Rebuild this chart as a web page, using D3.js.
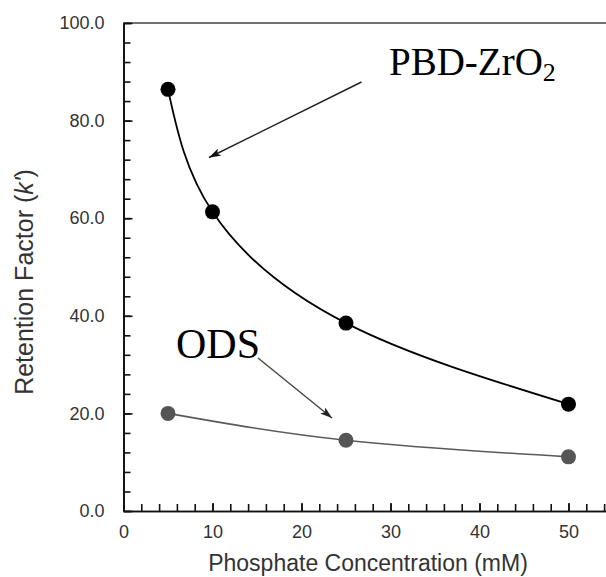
<!DOCTYPE html>
<html>
<head>
<meta charset="utf-8">
<script src="https://cdn.jsdelivr.net/npm/d3@7/dist/d3.min.js"></script>
<style>
  html, body { margin: 0; padding: 0; background: #fff; }
  svg { display: block; }
</style>
</head>
<body>
<svg id="chart" width="606" height="577"></svg>
<script>
// Phosphate concentration (mM) and retention factors for two stationary phases
const pbdConc = [5, 10, 25, 50];
const pbdK = [86.4, 61.3, 38.5, 21.9];
const odsConc = [5, 25, 50];
const odsK = [20.0, 14.5, 11.1];

const yTickLabels = ["0.0", "20.0", "40.0", "60.0", "80.0", "100.0"];
const xTickLabels = ["0", "10", "20", "30", "40", "50"];

const svg = d3.select("#chart");
const plotLeft = 123.5, plotTop = 23, plotBottom = 511;

const x = d3.scaleLinear().domain([0, 55]).range([plotLeft, plotLeft + 55 * 8.9]);
const y = d3.scaleLinear().domain([0, 100]).range([plotBottom, plotTop]);

const axisColor = "#111";
const sans = "Liberation Sans, Arial, sans-serif";

// top frame line
svg.append("line")
  .attr("x1", plotLeft).attr("x2", 606).attr("y1", plotTop).attr("y2", plotTop)
  .attr("stroke", "#444").attr("stroke-width", 1.6);

function styleAxis(g) {
  g.select(".domain").attr("stroke", axisColor).attr("stroke-width", 1.7);
  g.selectAll(".tick line").attr("stroke", axisColor).attr("stroke-width", 1.6);
}

// Y axis: minor ticks every 4 (inside), major every 20 with labels
svg.append("g").attr("transform", `translate(${plotLeft},0)`)
  .call(d3.axisLeft(y).tickValues(d3.range(0, 101, 4)).tickSize(-7).tickSizeOuter(0).tickFormat(""))
  .call(styleAxis);
svg.append("g").attr("transform", `translate(${plotLeft},0)`)
  .call(d3.axisLeft(y).tickValues(yTickLabels.map(Number)).tickSize(-9).tickSizeOuter(0)
    .tickPadding(19).tickFormat((d, i) => yTickLabels[i]))
  .call(styleAxis)
  .call(g => g.selectAll(".tick text").attr("font-family", sans).attr("font-size", 18).attr("fill", "#333"));

// X axis: minor ticks every 2 (inside), major every 10 with labels
svg.append("g").attr("transform", `translate(0,${plotBottom})`)
  .call(d3.axisBottom(x).tickValues(d3.range(0, 56, 2)).tickSize(-7).tickSizeOuter(0).tickFormat(""))
  .call(styleAxis);
svg.append("g").attr("transform", `translate(0,${plotBottom})`)
  .call(d3.axisBottom(x).tickValues(xTickLabels.map(Number)).tickSize(-8).tickSizeOuter(0)
    .tickPadding(14).tickFormat((d, i) => xTickLabels[i]))
  .call(styleAxis)
  .call(g => g.selectAll(".tick text").attr("font-family", sans).attr("font-size", 18).attr("fill", "#333"));

// axis titles
svg.append("text")
  .attr("x", 368).attr("y", 571)
  .attr("text-anchor", "middle")
  .attr("font-family", sans)
  .attr("font-size", 23).attr("fill", "#333")
  .text("Phosphate Concentration (mM)");

const yTitle = svg.append("text")
  .attr("transform", "translate(33,282) rotate(-90)")
  .attr("text-anchor", "middle")
  .attr("font-family", sans)
  .attr("font-size", 25).attr("fill", "#333");
yTitle.append("tspan").text("Retention Factor (");
yTitle.append("tspan").attr("font-style", "italic").text("k'");
yTitle.append("tspan").text(")");

// series curves
const line = d3.line()
  .x(d => x(d[0])).y(d => y(d[1]))
  .curve(d3.curveNatural);

const pbd = pbdConc.map((c, i) => [c, pbdK[i]]);
const ods = odsConc.map((c, i) => [c, odsK[i]]);

svg.append("path").datum(ods).attr("d", line)
  .attr("fill", "none").attr("stroke", "#5a5a5a").attr("stroke-width", 1.6);
svg.append("path").datum(pbd).attr("d", line)
  .attr("fill", "none").attr("stroke", "#000").attr("stroke-width", 1.8);

svg.selectAll("circle.ods").data(ods).enter().append("circle")
  .attr("class", "ods")
  .attr("cx", d => x(d[0])).attr("cy", d => y(d[1])).attr("r", 7.5)
  .attr("fill", "#555");
svg.selectAll("circle.pbd").data(pbd).enter().append("circle")
  .attr("class", "pbd")
  .attr("cx", d => x(d[0])).attr("cy", d => y(d[1])).attr("r", 7.5)
  .attr("fill", "#000");

// arrowheads
const defs = svg.append("defs");
function arrowMarker(id, color) {
  defs.append("marker").attr("id", id)
    .attr("viewBox", "0 0 12 8").attr("refX", 12).attr("refY", 4)
    .attr("markerWidth", 12).attr("markerHeight", 8)
    .attr("markerUnits", "userSpaceOnUse")
    .attr("orient", "auto")
    .append("path").attr("d", "M0,0 L12,4 L0,8 L3,4 Z").attr("fill", color);
}
arrowMarker("arrowBlack", "#111");
arrowMarker("arrowGray", "#222");

// annotations
svg.append("line")
  .attr("x1", 361.5).attr("y1", 82).attr("x2", 209).attr("y2", 157.5)
  .attr("stroke", "#222").attr("stroke-width", 1.5)
  .attr("marker-end", "url(#arrowBlack)");
svg.append("line")
  .attr("x1", 258).attr("y1", 358).attr("x2", 332).attr("y2", 418)
  .attr("stroke", "#444").attr("stroke-width", 1.4)
  .attr("marker-end", "url(#arrowGray)");

const pbdLabel = svg.append("text")
  .attr("x", 389).attr("y", 75)
  .attr("font-family", "Liberation Serif, Times New Roman, serif")
  .attr("font-size", 39).attr("fill", "#000");
pbdLabel.append("tspan").text("PBD-ZrO");
pbdLabel.append("tspan").attr("font-size", 26).attr("dy", 6).text("2");

svg.append("text")
  .attr("x", 176).attr("y", 358)
  .attr("font-family", "Liberation Serif, Times New Roman, serif")
  .attr("font-size", 42).attr("fill", "#000")
  .text("ODS");
</script>
</body>
</html>
